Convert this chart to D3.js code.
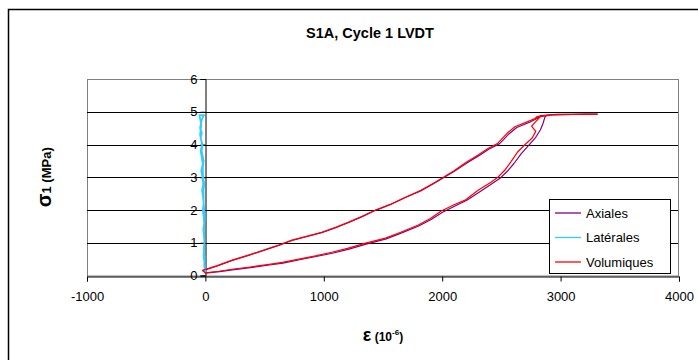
<!DOCTYPE html>
<html><head><meta charset="utf-8">
<script src="https://cdn.jsdelivr.net/npm/d3@7"></script>
<style>body{margin:0;background:#fff;} svg{display:block;font-family:Arial,"Liberation Sans",sans-serif;}</style>
</head><body>
<svg id="c" width="698" height="360"></svg>
<script>
const xTicks = [-1000, 0, 1000, 2000, 3000, 4000];
const yTicks = [0, 1, 2, 3, 4, 5, 6];
const seriesNames = ["Axiales", "Latérales", "Volumiques"];
const seriesColors = ["#800080", "#33CCFF", "#FF0000"];

// Axiales: strain (1e-6) and stress (MPa)
const axialStrain = [0,120,227,380,540,655,795,935,1072,1205,1358,1527,1658,1806,1910,2003,2112,2208,2318,2432,2492,2555,2606,2668,2732,2790,2830,2852,2866,2880,
  2960,3100,3200,3310,3100,2900,2830,
  2805,2738,2630,2565,2510,2482,2396,2310,2205,2103,1944,1822,1690,1560,1437,1320,1210,1100,983,860,731,620,512,370,227,100,-20,0];
const axialStress = [0.07,0.12,0.17,0.24,0.32,0.38,0.48,0.58,0.68,0.8,0.96,1.12,1.3,1.52,1.72,1.93,2.13,2.3,2.56,2.83,2.98,3.2,3.42,3.72,3.98,4.22,4.45,4.65,4.82,4.9,
  4.92,4.92,4.93,4.93,4.92,4.9,4.88,
  4.8,4.68,4.52,4.33,4.12,4.02,3.86,3.66,3.43,3.18,2.84,2.59,2.38,2.16,1.99,1.79,1.62,1.46,1.31,1.19,1.07,0.92,0.79,0.62,0.46,0.29,0.15,0.07];

// Latérales
const latStrain = [0,-10,-6,-15,-8,-12,-18,-10,-15,-22,-14,-20,-28,-18,-25,-35,-22,-30,-40,-28,-45,-35,-50,-10,-20,-35,-45,-30,-40,-25,-32,-15,-22,-20,-10,-16,-15,-5,-12,-8,-15,-5,0];
const latStress = [0.08,0.3,0.55,0.8,1.0,1.2,1.4,1.6,1.8,2.0,2.2,2.4,2.6,2.8,3.0,3.2,3.4,3.6,3.8,4.0,4.3,4.6,4.9,4.9,4.85,4.7,4.5,4.35,4.2,4.0,3.8,3.5,3.3,3.0,2.8,2.6,2.2,1.8,1.4,1.0,0.6,0.3,0.1];

// Volumiques
const volStrain = [0,115,225,378,538,650,790,930,1067,1200,1353,1521,1650,1798,1900,1992,2100,2193,2303,2412,2470,2530,2580,2639,2700,2760,2790,2755,2790,2830,
  2950,3100,3200,3310,3100,2900,2800,2780,2810,2760,
  2790,2723,2614,2550,2496,2470,2386,2303,2200,2100,1941,1820,1689,1560,1437,1320,1210,1100,983,860,731,620,512,370,227,100,-25,0];
const volStress = [0.08,0.13,0.19,0.26,0.34,0.4,0.5,0.6,0.71,0.83,0.99,1.14,1.32,1.54,1.74,1.97,2.16,2.3,2.6,2.85,3.0,3.22,3.47,3.78,4.0,4.2,4.4,4.56,4.7,4.85,
  4.91,4.92,4.93,4.93,4.92,4.9,4.85,4.78,4.82,4.76,
  4.8,4.7,4.54,4.35,4.14,4.04,3.88,3.68,3.45,3.2,2.85,2.6,2.39,2.17,2.0,1.8,1.63,1.47,1.32,1.2,1.08,0.93,0.8,0.63,0.47,0.3,0.16,0.08];

const svg = d3.select("#c");
const L = 87, R = 679, T = 79, B = 275.5;
const FONT = "Arial, 'Liberation Sans', sans-serif";

// outer frame
svg.append("rect").attr("x", 8.5).attr("y", 9.5).attr("width", 720).attr("height", 400)
  .attr("fill", "#fff").attr("stroke", "#000").attr("stroke-width", 1.5);

const x = d3.scaleLinear().domain([-1000, 4000]).range([L, R]);
const y = d3.scaleLinear().domain([0, 6]).range([B, T]);

// plot area
svg.append("rect").attr("x", L + 0.5).attr("y", T + 0.5).attr("width", R - L - 1).attr("height", B - T)
  .attr("fill", "#fff").attr("stroke", "#808080").attr("stroke-width", 1);

// gridlines
svg.append("g").selectAll("line").data(yTicks.filter(d => d > 0)).join("line")
  .attr("x1", L).attr("x2", R - 1).attr("y1", d => Math.round(y(d)) + 0.5).attr("y2", d => Math.round(y(d)) + 0.5)
  .attr("stroke", d => d === 6 ? "#808080" : "#000").attr("stroke-width", 1);

// y axis at x=0
const yAxis = d3.axisLeft(y).tickValues(yTicks).tickSize(5).tickPadding(3).tickFormat(d => String(d));
const gy = svg.append("g").attr("transform", `translate(${Math.round(x(0)) + 0.5},0)`).call(yAxis);
gy.select(".domain").attr("stroke", "#000");
gy.selectAll(".tick line").attr("stroke", "#000");
gy.selectAll("text").attr("font-size", 13).attr("fill", "#000").attr("font-family", FONT);

// x axis at y=0
const xAxis = d3.axisBottom(x).tickValues(xTicks).tickSize(5).tickPadding(10).tickFormat(d => String(d));
const gx = svg.append("g").attr("transform", `translate(0,${Math.round(y(0)) + 0.5})`).call(xAxis);
gx.select(".domain").attr("stroke", "#000");
gx.selectAll(".tick line").attr("stroke", "#000");
gx.selectAll("text").attr("font-size", 13).attr("fill", "#000").attr("font-family", FONT);

// lines
const line = d3.line().x(d => x(d[0])).y(d => y(d[1]));
const series = [
  d3.zip(axialStrain, axialStress),
  d3.zip(latStrain, latStress),
  d3.zip(volStrain, volStress)
];
const widths = [1.2, 1.8, 1.2];
series.forEach((s, i) => {
  svg.append("path").datum(s).attr("d", line).attr("fill", "none")
    .attr("stroke", seriesColors[i]).attr("stroke-width", widths[i]).attr("stroke-linejoin", "round");
});

// legend
const lg = svg.append("g");
lg.append("rect").attr("x", 549.5).attr("y", 199.5).attr("width", 121).attr("height", 74)
  .attr("fill", "#fff").attr("stroke", "#000");
seriesNames.forEach((n, i) => {
  const yy = 213 + i * 24.5;
  lg.append("line").attr("x1", 555).attr("x2", 581).attr("y1", yy).attr("y2", yy)
    .attr("stroke", seriesColors[i]).attr("stroke-width", 1.3);
  lg.append("text").attr("x", 586).attr("y", yy + 4.5).attr("font-size", 13).attr("font-family", FONT).text(n);
});

// title
svg.append("text").attr("x", 370).attr("y", 38).attr("text-anchor", "middle").attr("font-family", FONT)
  .attr("font-size", 14.5).attr("font-weight", "bold").text("S1A, Cycle 1 LVDT");

// y title
const yt = svg.append("text").attr("transform", `translate(51,${(T + B) / 2}) rotate(-90)`)
  .attr("text-anchor", "middle").attr("font-weight", "bold").attr("font-family", FONT);
yt.append("tspan").attr("font-size", 20).text("σ");
yt.append("tspan").attr("font-size", 13).text("1 (MPa)");

// x title
const xt = svg.append("text").attr("x", 383).attr("y", 341).attr("text-anchor", "middle").attr("font-weight", "bold").attr("font-family", FONT);
xt.append("tspan").attr("font-size", 18).text("ε");
xt.append("tspan").attr("font-size", 12).text(" (10");
xt.append("tspan").attr("font-size", 8).attr("dy", -6).text("-6");
xt.append("tspan").attr("font-size", 12).attr("dy", 6).text(")");
</script>
</body></html>
